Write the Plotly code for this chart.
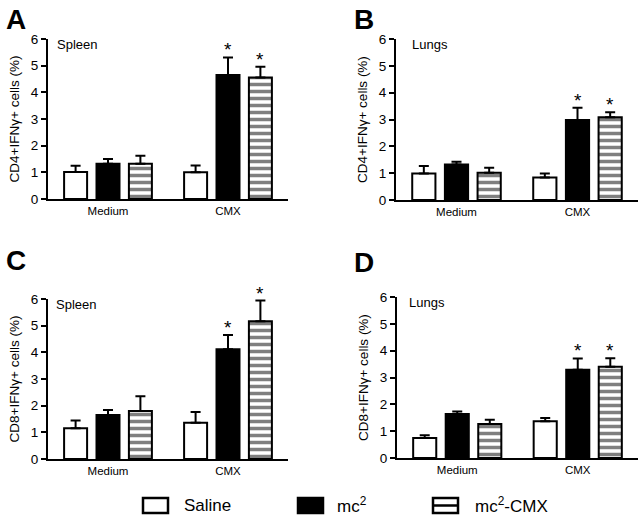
import plotly.graph_objects as go

W, H = 644, 523

groups = ["Medium", "CMX"]
series = ["Saline", "mc<sup>2</sup>", "mc<sup>2</sup>-CMX"]

# Panel A: CD4+ Spleen
a_means = {"Saline": [1.01, 1.00], "mc2": [1.32, 4.65], "mc2cmx": [1.32, 4.56]}
a_err = {"Saline": [0.24, 0.26], "mc2": [0.18, 0.66], "mc2cmx": [0.30, 0.40]}
# Panel B: CD4+ Lungs
b_means = {"Saline": [0.99, 0.84], "mc2": [1.32, 2.98], "mc2cmx": [1.02, 3.08]}
b_err = {"Saline": [0.28, 0.15], "mc2": [0.11, 0.46], "mc2cmx": [0.18, 0.19]}
# Panel C: CD8+ Spleen
c_means = {"Saline": [1.15, 1.36], "mc2": [1.65, 4.12], "mc2cmx": [1.80, 5.17]}
c_err = {"Saline": [0.29, 0.40], "mc2": [0.19, 0.53], "mc2cmx": [0.55, 0.77]}
# Panel D: CD8+ Lungs
d_means = {"Saline": [0.75, 1.37], "mc2": [1.64, 3.29], "mc2cmx": [1.27, 3.40]}
d_err = {"Saline": [0.10, 0.12], "mc2": [0.09, 0.42], "mc2cmx": [0.16, 0.32]}

# significance stars: (series key, group)
stars = [("mc2", "CMX"), ("mc2cmx", "CMX")]

panel_letters = ["A", "B", "C", "D"]
tissues = ["Spleen", "Lungs", "Spleen", "Lungs"]
ytitles = ["CD4+IFNγ+ cells (%)", "CD4+IFNγ+ cells (%)",
           "CD8+IFNγ+ cells (%)", "CD8+IFNγ+ cells (%)"]
y_ticks = [0, 1, 2, 3, 4, 5, 6]

FONT = "Liberation Sans, Arial, Helvetica, sans-serif"
keys = ["Saline", "mc2", "mc2cmx"]

def px_x(p):
    return p / W

def px_y(p):
    return 1 - p / H

# layout geometry (pixels): x-left, x-right, y(0), y(6)
panels = [
    dict(data=(a_means, a_err), x=(48, 288), y=(199, 39), letter=(4, 2), tx=7),
    dict(data=(b_means, b_err), x=(396, 638), y=(200, 39), letter=(352, 2), tx=14),
    dict(data=(c_means, c_err), x=(48, 288), y=(459, 299), letter=(4, 243), tx=6),
    dict(data=(d_means, d_err), x=(397, 638), y=(458, 297), letter=(352, 245), tx=10),
]

BARGAP = 0.19
BARGROUPGAP = 0.29
slot = (1 - BARGAP) / 3

fig = go.Figure()
annotations = []
layout_axes = {}

for i, p in enumerate(panels):
    n = i + 1
    xa = "x" if n == 1 else f"x{n}"
    ya = "y" if n == 1 else f"y{n}"
    means, errs = p["data"]
    for k, (key, name) in enumerate(zip(keys, series)):
        if key == "Saline":
            marker = dict(color="white", line=dict(color="black", width=2))
        elif key == "mc2":
            marker = dict(color="black", line=dict(color="black", width=2))
        else:
            marker = dict(color="white", line=dict(color="black", width=2),
                          pattern=dict(shape="-", size=7, solidity=0.5,
                                       fgcolor="black", bgcolor="white",
                                       fillmode="overlay"))
        fig.add_trace(go.Bar(
            x=groups, y=means[key], name=name, showlegend=False,
            offsetgroup=str(k),
            marker=marker,
            error_y=dict(type="data", array=errs[key], arrayminus=[0] * len(groups),
                         symmetric=False, color="black", thickness=2, width=5),
            xaxis=xa, yaxis=ya,
        ))
    for key, grp in stars:
        k = keys.index(key)
        gi = groups.index(grp)
        top = means[key][gi] + errs[key][gi]
        annotations.append(dict(
            x=gi + (k - 1) * slot, y=top, xref=xa, yref=ya, text="*",
            showarrow=False, yanchor="bottom", yshift=-5,
            font=dict(size=19, color="black", family=FONT)))
    xdom = [px_x(p["x"][0]), px_x(p["x"][1])]
    ydom = [px_y(p["y"][0]), px_y(p["y"][1])]
    xkey = "xaxis" if n == 1 else f"xaxis{n}"
    ykey = "yaxis" if n == 1 else f"yaxis{n}"
    layout_axes[xkey] = dict(
        domain=xdom, anchor=ya, type="category", range=[-0.5, 1.5],
        showline=True, linecolor="black", linewidth=2, ticks="",
        showgrid=False, zeroline=False, fixedrange=True, automargin=False,
        tickfont=dict(size=11.5, color="black", family=FONT),
    )
    layout_axes[ykey] = dict(
        domain=ydom, anchor=xa, range=[0, 6], tickvals=y_ticks,
        showline=True, linecolor="black", linewidth=2,
        ticks="outside", ticklen=5, tickwidth=2, tickcolor="black",
        showgrid=False, zeroline=False, automargin=False,
        tickfont=dict(size=13.5, color="black", family=FONT),
        title=dict(text=ytitles[i], font=dict(size=13.5, color="black", family=FONT),
                   standoff=8),
    )
    # tissue label
    annotations.append(dict(
        x=px_x(p["x"][0] + p["tx"]), y=px_y(p["y"][1] + 5), xref="paper", yref="paper",
        text=tissues[i], showarrow=False, xanchor="left", yanchor="middle",
        font=dict(size=13, color="black", family=FONT)))
    # panel letter
    annotations.append(dict(
        x=px_x(p["letter"][0]), y=px_y(p["letter"][1]), xref="paper", yref="paper",
        text=f"<b>{panel_letters[i]}</b>", showarrow=False, xanchor="left", yanchor="top",
        font=dict(size=28, color="black", family=FONT)))

# legend (drawn as shapes + text)
legend_items = [(143, 182), (298, 335), (433, 473)]
shapes = []
for k, (bx, tx) in enumerate(legend_items):
    x0, x1 = px_x(bx), px_x(bx + 25)
    y0, y1 = px_y(513), px_y(498)
    fill = "black" if keys[k] == "mc2" else "white"
    shapes.append(dict(type="rect", xref="paper", yref="paper", x0=x0, x1=x1, y0=y0, y1=y1,
                       line=dict(color="black", width=2.5), fillcolor=fill))
    if keys[k] == "mc2cmx":
        shapes.append(dict(type="line", xref="paper", yref="paper", x0=x0, x1=x1,
                           y0=px_y(505.5), y1=px_y(505.5), line=dict(color="black", width=2.5)))
    annotations.append(dict(
        x=px_x(tx), y=px_y(505), xref="paper", yref="paper", text=series[k],
        showarrow=False, xanchor="left", yanchor="middle",
        font=dict(size=17, color="black", family=FONT)))

fig.update_layout(
    width=W, height=H, autosize=False,
    margin=dict(l=0, r=0, t=0, b=0, pad=0, autoexpand=False),
    paper_bgcolor="white", plot_bgcolor="white",
    barmode="group", bargap=BARGAP, bargroupgap=BARGROUPGAP,
    showlegend=False,
    annotations=annotations, shapes=shapes,
    font=dict(family=FONT, color="black"),
    **layout_axes,
)

fig.write_html(
    "out.html",
    config={"displayModeBar": False, "staticPlot": True},
    post_script="document.body.style.margin='0';document.body.style.overflow='hidden';",
)
